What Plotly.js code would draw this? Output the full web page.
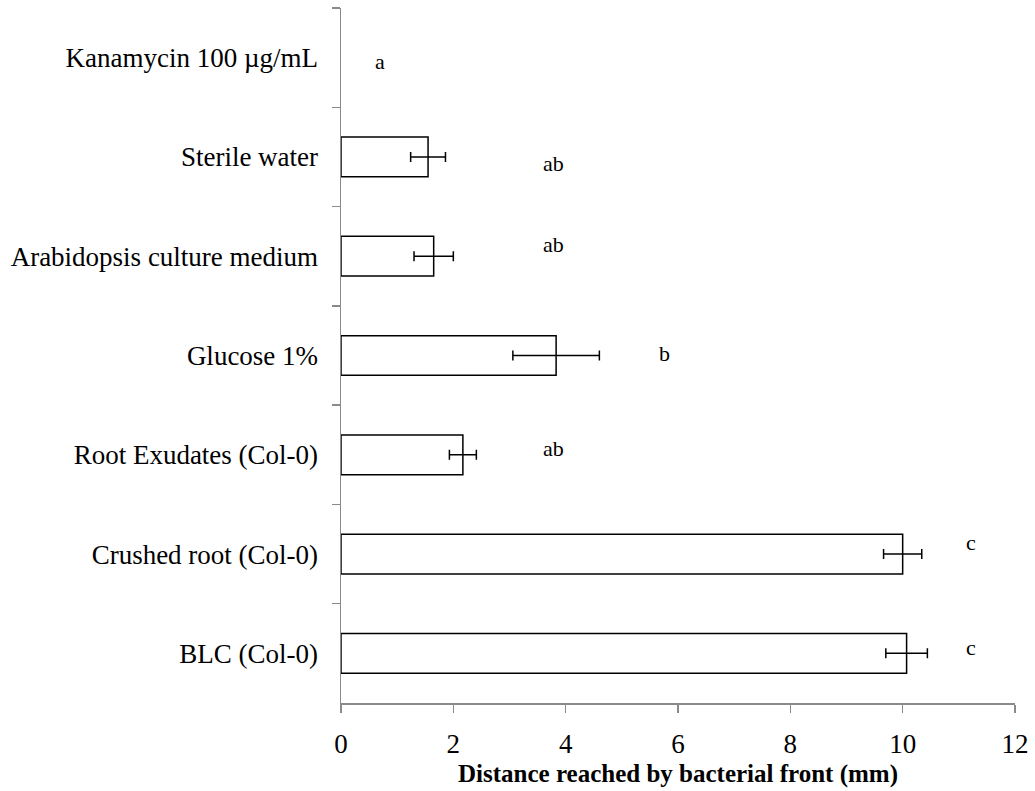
<!DOCTYPE html>
<html>
<head>
<meta charset="utf-8">
<script src="https://cdn.plot.ly/plotly-3.0.1.min.js"></script>
<style>html,body{margin:0;padding:0;background:#fff;}#chart{width:1035px;height:791px;}</style>
</head>
<body>
<div id="chart"></div>
<script>
// Categories listed top to bottom
var categories = ["Kanamycin 100 \u00b5g/mL", "Sterile water", "Arabidopsis culture medium", "Glucose 1%", "Root Exudates (Col-0)", "Crushed root (Col-0)", "BLC (Col-0)"];
var distances = [0, 1.55, 1.65, 3.83, 2.17, 10.0, 10.07];
var errors = [null, 0.31, 0.35, 0.77, 0.24, 0.34, 0.37];
var letters = ["a", "ab", "ab", "b", "ab", "c", "c"];
var letterX = [0.70, 3.78, 3.78, 5.76, 3.78, 11.21, 11.21];
var letterShift = [-4, -7, 12, 2, 6, 12, 6];

var barTrace = {
  type: 'bar',
  orientation: 'h',
  y: categories,
  x: distances,
  width: 0.4,
  marker: {
    color: '#ffffff',
    line: {color: '#000000', width: distances.map(function(v){ return v > 0 ? 1.5 : 0; })}
  },
  hoverinfo: 'none'
};

// error bars only where an error exists
var errY = [], errX = [], errV = [];
categories.forEach(function(c, i){
  if (errors[i] !== null) { errY.push(c); errX.push(distances[i]); errV.push(errors[i]); }
});
var errTrace = {
  type: 'scatter', mode: 'markers',
  y: errY, x: errX,
  marker: {size: 0.1, color: 'rgba(0,0,0,0)'},
  error_x: {type: 'data', array: errV, visible: true, color: '#000000', thickness: 1.5, width: 5},
  hoverinfo: 'none'
};

var annotations = letters.map(function(t, i){
  return {x: letterX[i], y: categories[i], xref: 'x', yref: 'y', text: t, showarrow: false,
          yshift: letterShift[i], font: {family: 'Liberation Serif, serif', size: 22, color: '#000'}};
});

var layout = {
  width: 1035, height: 791,
  margin: {l: 341, r: 20, t: 8, b: 88},
  paper_bgcolor: '#fff', plot_bgcolor: '#fff',
  showlegend: false,
  font: {family: 'Liberation Serif, Times New Roman, serif', color: '#000'},
  xaxis: {
    range: [0, 12], dtick: 2, tick0: 0,
    showgrid: false, zeroline: false,
    showline: true, linecolor: '#8a8a8a', linewidth: 1.5,
    ticks: 'outside', ticklen: 8, tickcolor: '#8a8a8a', tickwidth: 1.5,
    ticklabelstandoff: 8,
    tickfont: {family: 'Liberation Serif, serif', size: 27, color: '#000'},
    title: {text: '<b>Distance reached by bacterial front (mm)</b>', font: {family: 'Liberation Serif, serif', size: 25, color: '#000'}, standoff: 6}
  },
  yaxis: {
    type: 'category', categoryorder: 'array', categoryarray: categories,
    autorange: 'reversed',
    showgrid: false, zeroline: false,
    showline: true, linecolor: '#8a8a8a', linewidth: 1.5,
    ticks: 'outside', ticklen: 8, tickcolor: '#8a8a8a', tickwidth: 1.5,
    tickson: 'boundaries',
    ticklabelstandoff: 16,
    tickfont: {family: 'Liberation Serif, serif', size: 27, color: '#000'}
  },
  annotations: annotations
};

Plotly.newPlot('chart', [barTrace, errTrace], layout, {displayModeBar: false, staticPlot: true});
</script>
</body>
</html>
